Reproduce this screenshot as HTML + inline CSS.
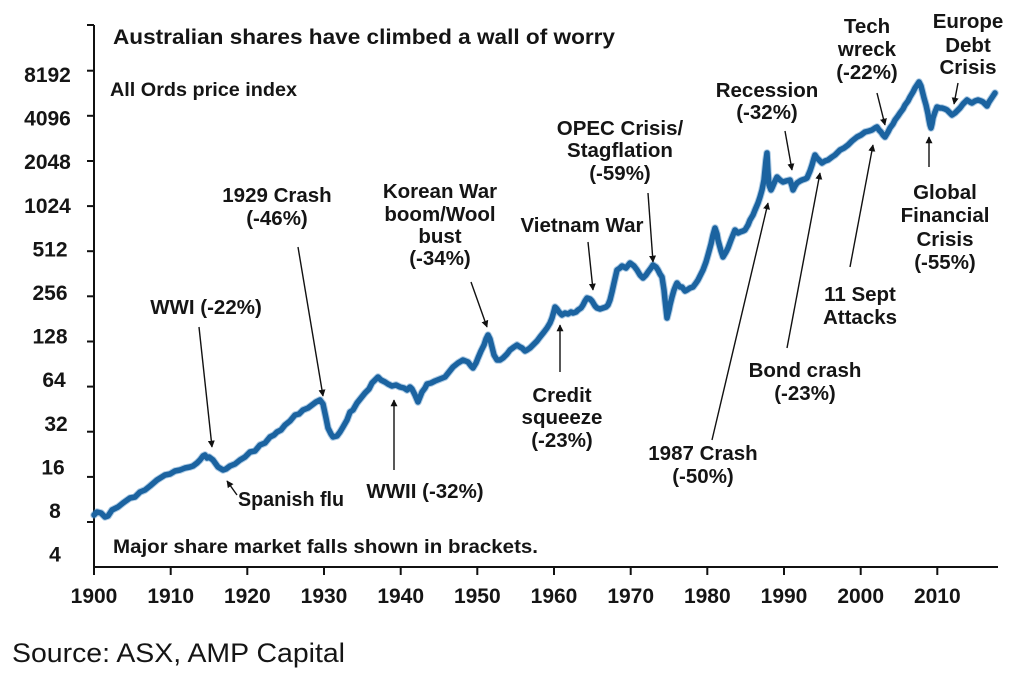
<!DOCTYPE html>
<html>
<head>
<meta charset="utf-8">
<style>
  html,body{margin:0;padding:0;background:#fff;}
  svg{display:block;}
  text{font-family:"Liberation Sans",Arial,sans-serif;fill:#151515;}
  .b{font-weight:bold;}
  .ann{font-weight:bold;font-size:20.5px;text-anchor:middle;}
  .ax{font-weight:bold;font-size:21px;text-anchor:middle;}
</style>
</head>
<body>
<svg width="1022" height="682" viewBox="0 0 1022 682" xmlns="http://www.w3.org/2000/svg">
  <defs>
    <marker id="ah" viewBox="0 0 10 10" refX="9" refY="5" markerWidth="7" markerHeight="7" orient="auto" markerUnits="userSpaceOnUse">
      <path d="M0,0 L10,5 L0,10 z" fill="#111"/>
    </marker>
  </defs>
  <rect width="1022" height="682" fill="#fff"/>

  <!-- Axes -->
  <g stroke="#111" stroke-width="2" fill="none">
    <line x1="94" y1="25" x2="94" y2="568"/>
    <line x1="93" y1="567" x2="998" y2="567"/>
    <line x1="87" y1="25" x2="94" y2="25"/>
    <line x1="87" y1="70.7" x2="94" y2="70.7"/>
    <line x1="87" y1="115.8" x2="94" y2="115.8"/>
    <line x1="87" y1="161" x2="94" y2="161"/>
    <line x1="87" y1="206.1" x2="94" y2="206.1"/>
    <line x1="87" y1="251.2" x2="94" y2="251.2"/>
    <line x1="87" y1="296.3" x2="94" y2="296.3"/>
    <line x1="87" y1="341.5" x2="94" y2="341.5"/>
    <line x1="87" y1="386.6" x2="94" y2="386.6"/>
    <line x1="87" y1="431.7" x2="94" y2="431.7"/>
    <line x1="87" y1="476.9" x2="94" y2="476.9"/>
    <line x1="87" y1="522" x2="94" y2="522"/>
    <line x1="94" y1="567" x2="94" y2="575"/>
    <line x1="170.7" y1="567" x2="170.7" y2="575"/>
    <line x1="247.3" y1="567" x2="247.3" y2="575"/>
    <line x1="324" y1="567" x2="324" y2="575"/>
    <line x1="400.7" y1="567" x2="400.7" y2="575"/>
    <line x1="477.3" y1="567" x2="477.3" y2="575"/>
    <line x1="554" y1="567" x2="554" y2="575"/>
    <line x1="630.7" y1="567" x2="630.7" y2="575"/>
    <line x1="707.3" y1="567" x2="707.3" y2="575"/>
    <line x1="784" y1="567" x2="784" y2="575"/>
    <line x1="860.7" y1="567" x2="860.7" y2="575"/>
    <line x1="937.3" y1="567" x2="937.3" y2="575"/>
  </g>

  <!-- Y labels -->
  <g class="ax">
    <text x="47.5" y="82">8192</text>
    <text x="47.5" y="125.6">4096</text>
    <text x="47.5" y="169.2">2048</text>
    <text x="47.5" y="212.8">1024</text>
    <text x="50" y="256.4">512</text>
    <text x="50" y="300">256</text>
    <text x="50" y="343.6">128</text>
    <text x="54" y="387.2">64</text>
    <text x="56" y="430.8">32</text>
    <text x="53" y="474.4">16</text>
    <text x="55" y="518">8</text>
    <text x="55" y="561.5">4</text>
  </g>

  <!-- X labels -->
  <g class="ax">
    <text x="94" y="603">1900</text>
    <text x="170.7" y="603">1910</text>
    <text x="247.3" y="603">1920</text>
    <text x="324" y="603">1930</text>
    <text x="400.7" y="603">1940</text>
    <text x="477.3" y="603">1950</text>
    <text x="554" y="603">1960</text>
    <text x="630.7" y="603">1970</text>
    <text x="707.3" y="603">1980</text>
    <text x="784" y="603">1990</text>
    <text x="860.7" y="603">2000</text>
    <text x="937.3" y="603">2010</text>
  </g>

  <!-- Series -->
  <g fill="none" stroke-linejoin="round" stroke-linecap="round">
  <polyline id="ser" stroke="#4d8fc6" stroke-opacity="0.45" stroke-width="7.5"
    points="94,515 97,512 101,513 105,517 108,516 112,510 118,507 123,503 130,498 135,497 140,492 145,490 150,486 157,480 165,475 170,474 175,471 180,470 185,468 190,467 193,466 197,463 200,460 203,456 205,455 207,458 209,457 213,460 218,467 223,470 226,469 230,466 235,464 240,460 245,457 250,452 255,451 260,445 265,443 270,437 274,435 277,432 281,430 285,425 290,421 295,415 299,414 303,410 308,408 312,405 316,402 320,400 323,404 326,418 328,428 331,434 333,437 337,436 340,432 343,427 347,420 350,412 353,410 357,403 361,398 365,393 369,389 372,383 375,380 378,377 381,380 385,382 388,384 392,386 396,385 400,387 404,388 407,390 410,387 412,389 415,395 418,402 420,397 422,392 425,388 427,384 431,383 435,381 440,379 445,377 449,372 453,367 458,363 463,360 468,362 471,366 473,368 476,363 478,358 481,351 484,345 486,339 488,335 490,339 492,347 494,355 497,360 500,360 503,358 507,354 510,350 514,347 517,345 520,347 522,348 525,351 527,350 530,348 533,345 537,341 540,337 544,332 547,328 550,323 552,318 554,311 555,307 557,309 559,312 562,315 565,313 568,314 571,312 573,313 576,312 578,310 581,308 583,305 585,301 587,298 590,299 592,301 595,306 597,308 600,309 603,308 606,307 608,305 610,300 612,292 614,283 617,270 620,268 622,266 626,268 630,263 634,266 637,270 640,275 643,278 646,275 648,272 651,268 653,265 656,267 658,270 660,274 662,277 664,290 665,300 667,318 669,310 670,305 672,297 674,290 676,285 677,283 680,287 682,287 685,291 687,290 690,288 693,287 696,283 698,280 701,274 703,270 706,262 708,255 711,244 713,235 715,228 717,234 718,240 721,251 723,257 726,252 728,248 731,240 735,230 738,233 740,232 743,231 745,230 748,225 750,220 753,215 755,210 758,203 760,197 762,190 764,180 766,160 767,153 768,172 769,185 771,190 772,188 775,181 777,177 780,180 783,182 786,181 790,180 792,186 793,190 795,186 797,183 800,181 802,180 805,179 807,178 810,171 812,165 814,158 815,155 817,158 819,160 822,163 825,161 828,160 832,157 835,155 838,152 840,150 844,148 848,145 852,141 857,137 861,135 865,132 869,131 872,130 875,128 877,127 879,130 881,132 883,135 885,137 888,132 890,128 893,124 895,120 898,116 900,113 903,109 905,105 908,101 910,97 913,92 915,88 917,85 919,82 921,86 922,90 924,98 926,105 928,114 929,120 930,125 931,128 932,124 933,118 935,112 937,107 940,108 942,108 945,109 947,110 950,113 952,115 955,113 958,110 960,108 963,104 967,100 970,102 972,103 975,101 978,100 981,101 983,102 985,104 987,106 989,102 991,99 993,96 995,93"/>
  <polyline stroke="#1b63a0" stroke-width="5.5"
    points="94,515 97,512 101,513 105,517 108,516 112,510 118,507 123,503 130,498 135,497 140,492 145,490 150,486 157,480 165,475 170,474 175,471 180,470 185,468 190,467 193,466 197,463 200,460 203,456 205,455 207,458 209,457 213,460 218,467 223,470 226,469 230,466 235,464 240,460 245,457 250,452 255,451 260,445 265,443 270,437 274,435 277,432 281,430 285,425 290,421 295,415 299,414 303,410 308,408 312,405 316,402 320,400 323,404 326,418 328,428 331,434 333,437 337,436 340,432 343,427 347,420 350,412 353,410 357,403 361,398 365,393 369,389 372,383 375,380 378,377 381,380 385,382 388,384 392,386 396,385 400,387 404,388 407,390 410,387 412,389 415,395 418,402 420,397 422,392 425,388 427,384 431,383 435,381 440,379 445,377 449,372 453,367 458,363 463,360 468,362 471,366 473,368 476,363 478,358 481,351 484,345 486,339 488,335 490,339 492,347 494,355 497,360 500,360 503,358 507,354 510,350 514,347 517,345 520,347 522,348 525,351 527,350 530,348 533,345 537,341 540,337 544,332 547,328 550,323 552,318 554,311 555,307 557,309 559,312 562,315 565,313 568,314 571,312 573,313 576,312 578,310 581,308 583,305 585,301 587,298 590,299 592,301 595,306 597,308 600,309 603,308 606,307 608,305 610,300 612,292 614,283 617,270 620,268 622,266 626,268 630,263 634,266 637,270 640,275 643,278 646,275 648,272 651,268 653,265 656,267 658,270 660,274 662,277 664,290 665,300 667,318 669,310 670,305 672,297 674,290 676,285 677,283 680,287 682,287 685,291 687,290 690,288 693,287 696,283 698,280 701,274 703,270 706,262 708,255 711,244 713,235 715,228 717,234 718,240 721,251 723,257 726,252 728,248 731,240 735,230 738,233 740,232 743,231 745,230 748,225 750,220 753,215 755,210 758,203 760,197 762,190 764,180 766,160 767,153 768,172 769,185 771,190 772,188 775,181 777,177 780,180 783,182 786,181 790,180 792,186 793,190 795,186 797,183 800,181 802,180 805,179 807,178 810,171 812,165 814,158 815,155 817,158 819,160 822,163 825,161 828,160 832,157 835,155 838,152 840,150 844,148 848,145 852,141 857,137 861,135 865,132 869,131 872,130 875,128 877,127 879,130 881,132 883,135 885,137 888,132 890,128 893,124 895,120 898,116 900,113 903,109 905,105 908,101 910,97 913,92 915,88 917,85 919,82 921,86 922,90 924,98 926,105 928,114 929,120 930,125 931,128 932,124 933,118 935,112 937,107 940,108 942,108 945,109 947,110 950,113 952,115 955,113 958,110 960,108 963,104 967,100 970,102 972,103 975,101 978,100 981,101 983,102 985,104 987,106 989,102 991,99 993,96 995,93"/>
  </g>

  <!-- Arrows -->
  <g stroke="#111" stroke-width="1.4" fill="none" marker-end="url(#ah)">
    <line x1="199" y1="327" x2="212" y2="447"/>
    <line x1="298" y1="247" x2="323" y2="396"/>
    <line x1="471" y1="282" x2="487" y2="327"/>
    <line x1="588" y1="242" x2="593" y2="290"/>
    <line x1="648" y1="193" x2="653" y2="262"/>
    <line x1="560" y1="372" x2="560" y2="325"/>
    <line x1="394" y1="470" x2="394" y2="400"/>
    <line x1="237" y1="495" x2="227" y2="481"/>
    <line x1="712" y1="440" x2="768" y2="203"/>
    <line x1="787" y1="348" x2="820" y2="173"/>
    <line x1="850" y1="267" x2="873" y2="145"/>
    <line x1="785" y1="131" x2="792" y2="170"/>
    <line x1="877" y1="93" x2="885" y2="125"/>
    <line x1="929" y1="167" x2="929" y2="137"/>
    <line x1="958" y1="83" x2="954" y2="104"/>
  </g>

  <!-- Titles -->
  <text class="b" x="113" y="44" font-size="21" textLength="502" lengthAdjust="spacingAndGlyphs">Australian shares have climbed a wall of worry</text>
  <text class="b" x="110" y="96" font-size="19" textLength="187" lengthAdjust="spacingAndGlyphs">All Ords price index</text>
  <text class="b" x="113" y="553" font-size="19" textLength="425" lengthAdjust="spacingAndGlyphs">Major share market falls shown in brackets.</text>

  <!-- Annotations -->
  <text class="ann" x="206" y="314">WWI (-22%)</text>
  <text class="ann" x="277" y="202">1929 Crash</text>
  <text class="ann" x="277" y="225">(-46%)</text>
  <text class="ann" x="440" y="198">Korean War</text>
  <text class="ann" x="440" y="221">boom/Wool</text>
  <text class="ann" x="440" y="243">bust</text>
  <text class="ann" x="440" y="265">(-34%)</text>
  <text class="ann" x="582" y="232">Vietnam War</text>
  <text class="ann" x="620" y="135">OPEC Crisis/</text>
  <text class="ann" x="620" y="157">Stagflation</text>
  <text class="ann" x="620" y="180">(-59%)</text>
  <text class="ann" x="767" y="97">Recession</text>
  <text class="ann" x="767" y="119">(-32%)</text>
  <text class="ann" x="867" y="33">Tech</text>
  <text class="ann" x="867" y="56">wreck</text>
  <text class="ann" x="867" y="79">(-22%)</text>
  <text class="ann" x="968" y="28">Europe</text>
  <text class="ann" x="968" y="52">Debt</text>
  <text class="ann" x="968" y="74">Crisis</text>
  <text class="ann" x="945" y="199">Global</text>
  <text class="ann" x="945" y="222">Financial</text>
  <text class="ann" x="945" y="246">Crisis</text>
  <text class="ann" x="945" y="269">(-55%)</text>
  <text class="ann" x="860" y="301">11 Sept</text>
  <text class="ann" x="860" y="324">Attacks</text>
  <text class="ann" x="805" y="377">Bond crash</text>
  <text class="ann" x="805" y="400">(-23%)</text>
  <text class="ann" x="703" y="460">1987 Crash</text>
  <text class="ann" x="703" y="483">(-50%)</text>
  <text class="ann" x="562" y="402">Credit</text>
  <text class="ann" x="562" y="424">squeeze</text>
  <text class="ann" x="562" y="447">(-23%)</text>
  <text class="ann" x="425" y="498">WWII (-32%)</text>
  <text class="b" x="238" y="506" font-size="20.5" textLength="106" lengthAdjust="spacingAndGlyphs">Spanish flu</text>

  <!-- Source -->
  <text x="12" y="662" font-size="27" fill="#1e1e1e" textLength="333" lengthAdjust="spacingAndGlyphs">Source: ASX, AMP Capital</text>
</svg>
</body>
</html>
